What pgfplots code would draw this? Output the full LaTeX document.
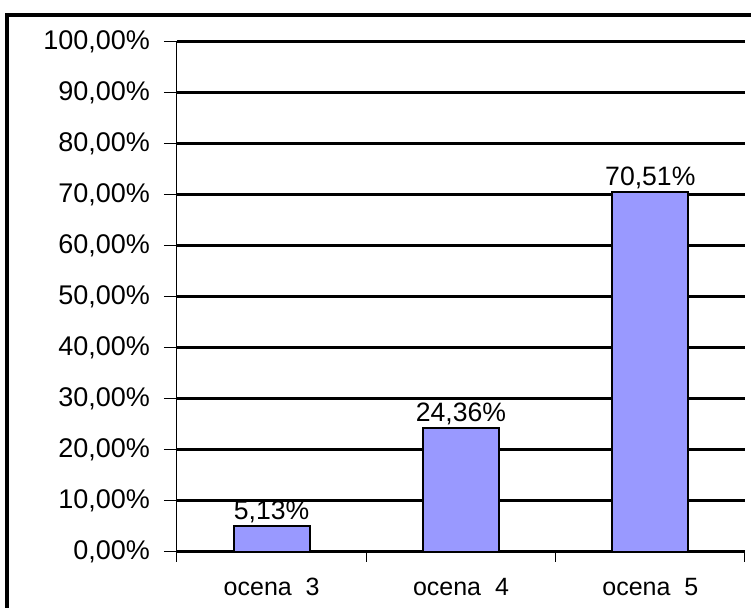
\documentclass[border=0pt]{standalone}
\usepackage{fontspec}
\setmainfont{Liberation Sans}
\usepackage{pgfplots}
\pgfplotsset{compat=1.18}
\definecolor{barblue}{HTML}{9999FF}
\begin{document}
\begin{tikzpicture}
\useasboundingbox (0,0) rectangle (375.5pt,304pt);
\fill[white] (0,0) rectangle (375.5pt,304pt);
\draw[line width=2pt,line cap=rect] (3.5pt,-10pt) -- (3.5pt,296.5pt) -- (400pt,296.5pt);
\begin{axis}[
  at={(88.5pt,28pt)}, anchor=south west,
  scale only axis, width=284pt, height=255pt,
  xmin=-0.5, xmax=2.5, ymin=0, ymax=100,
  axis x line*=bottom, axis y line*=left,
  x axis line style={line width=1.5pt},
  y axis line style={line width=0.5pt},
  ytick={0,10,...,100},
  yticklabels={{0,00\%},{10,00\%},{20,00\%},{30,00\%},{40,00\%},{50,00\%},{60,00\%},{70,00\%},{80,00\%},{90,00\%},{100,00\%}},
  ymajorgrids, grid style={line width=1.5pt,black},
  ytick pos=left, tick align=outside,
  major tick length=6.5pt,
  tick style={black, line width=0.5pt},
  xtick={0,1,2},
  xticklabels={{ocena~~3},{ocena~~4},{ocena~~5}},
  major x tick style={draw=none},
  minor xtick={-0.5,0.5,1.5,2.5},
  minor tick length=5pt,
  minor x tick style={black,line width=0.5pt},
  xtick pos=bottom,
  yticklabel style={font=\fontsize{13.5}{15}\selectfont, xshift=-3.5pt},
  xticklabel style={font=\fontsize{12.5}{14}\selectfont, yshift=-3pt},
  ybar, bar width=0.4,
  nodes near coords, point meta=explicit symbolic,
  every node near coord/.append style={font=\fontsize{13.3}{14}\selectfont, inner sep=1pt, anchor=south},
  clip=false,
]
\addplot[fill=barblue, draw=black, line width=1pt] coordinates {
  (0,5.13) [5,13\%]
  (1,24.36) [24,36\%]
  (2,70.51) [70,51\%]
};
\end{axis}
\end{tikzpicture}
\end{document}
